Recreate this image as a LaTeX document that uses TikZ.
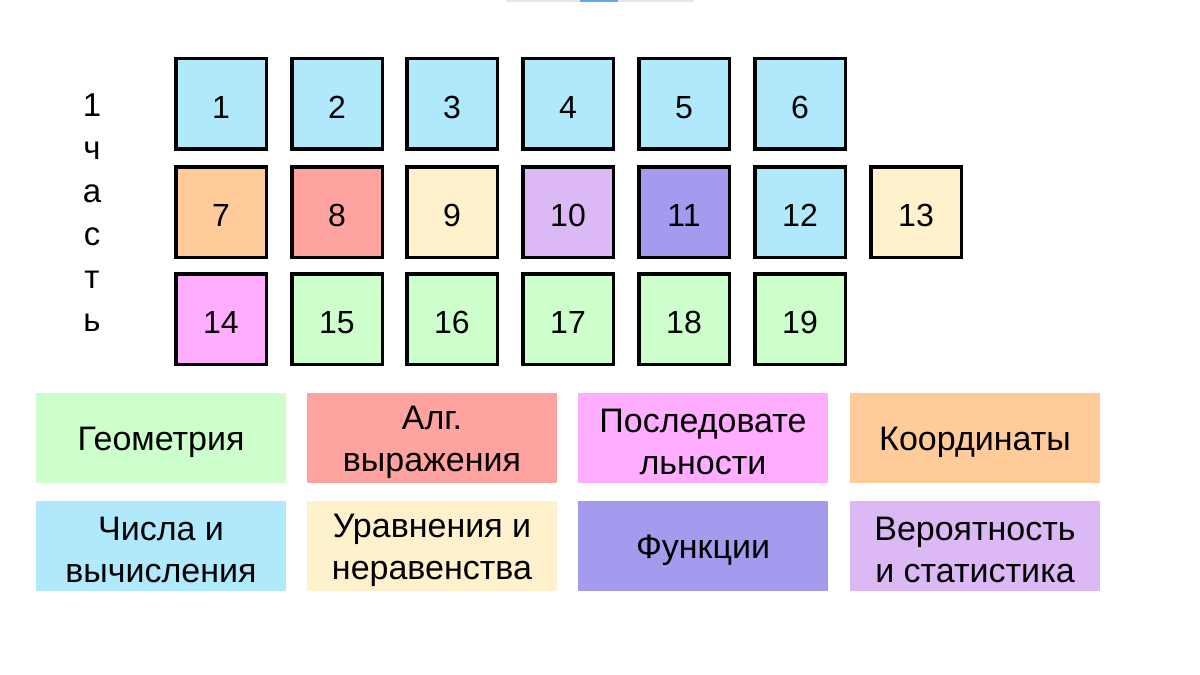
\documentclass[tikz,border=0pt]{standalone}
\usepackage{fontspec}
\setmainfont{Liberation Sans}
\definecolor{cblue}{HTML}{B0E8FC}
\definecolor{corange}{HTML}{FFCC99}
\definecolor{csalmon}{HTML}{FFA3A0}
\definecolor{cyellow}{HTML}{FFF1CC}
\definecolor{clilac}{HTML}{DCB8F5}
\definecolor{cperi}{HTML}{A49BEE}
\definecolor{cpink}{HTML}{FFADFF}
\definecolor{cgreen}{HTML}{CCFFCC}
\definecolor{cbarg}{HTML}{E6E6E6}
\definecolor{cbarb}{HTML}{62A8EA}
\newcommand\tst{\rule{0pt}{33pt}}
\newcommand\bst{\rule[-2pt]{0pt}{2pt}}
\begin{document}
\begin{tikzpicture}[x=1pt,y=-1pt,
  numbox/.style={draw=black, line width=3.5pt, minimum width=90.5pt, minimum height=90.5pt,
    inner sep=0pt, font=\fontsize{32}{38}\selectfont, text height=29pt, text depth=0pt},
  legbox/.style={minimum width=250pt, minimum height=90pt, inner sep=0pt, align=center,
    font=\fontsize{34}{42}\selectfont},
  vlet/.style={anchor=base, inner sep=0pt, font=\fontsize{33}{38}\selectfont}]
\useasboundingbox (0,0) rectangle (1200,675);
\fill[white] (0,0) rectangle (1200,675);
% top bar
\fill[cbarg] (506,0) rectangle (694,1.5);
\fill[cbarb] (580,0) rectangle (618,1.5);
% vertical label
\node[vlet] (v1) at (92,116) {1};
\node[vlet] (v2) at (92,159) {ч};
\node[vlet] (v3) at (92,202) {а};
\node[vlet] (v4) at (92,245) {с};
\node[vlet] (v5) at (92,288) {т};
\node[vlet] (v6) at (92,331) {ь};
% row 1
\node[numbox, fill=cblue] (n1) at (221,103.5) {1};
\node[numbox, fill=cblue] (n2) at (337,103.5) {2};
\node[numbox, fill=cblue] (n3) at (452,103.5) {3};
\node[numbox, fill=cblue] (n4) at (568,103.5) {4};
\node[numbox, fill=cblue] (n5) at (684,103.5) {5};
\node[numbox, fill=cblue] (n6) at (800,103.5) {6};
% row 2
\node[numbox, fill=corange] (n7) at (221,212) {7};
\node[numbox, fill=csalmon] (n8) at (337,212) {8};
\node[numbox, fill=cyellow] (n9) at (452,212) {9};
\node[numbox, fill=clilac] (n10) at (568,212) {10};
\node[numbox, fill=cperi] (n11) at (684,212) {11};
\node[numbox, fill=cblue] (n12) at (800,212) {12};
\node[numbox, fill=cyellow] (n13) at (916,212) {13};
% row 3
\node[numbox, fill=cpink] (n14) at (221,319) {14};
\node[numbox, fill=cgreen] (n15) at (337,319) {15};
\node[numbox, fill=cgreen] (n16) at (452,319) {16};
\node[numbox, fill=cgreen] (n17) at (568,319) {17};
\node[numbox, fill=cgreen] (n18) at (684,319) {18};
\node[numbox, fill=cgreen] (n19) at (800,319) {19};
% legend
\node[legbox, fill=cgreen] (l1) at (161,438) {\tst Геометрия\bst};
\node[legbox, fill=csalmon] (l2) at (432,438) {\tst Алг.\\выражения\bst};
\node[legbox, fill=cpink] (l3) at (703,438) {\tst Последовате\\льности\bst};
\node[legbox, fill=corange] (l4) at (975,438) {\tst Координаты\bst};
\node[legbox, fill=cblue] (l5) at (161,546) {\tst Числа и\\вычисления\bst};
\node[legbox, fill=cyellow] (l6) at (432,546) {\tst Уравнения и\\неравенства\bst};
\node[legbox, fill=cperi] (l7) at (703,546) {\tst Функции\bst};
\node[legbox, fill=clilac] (l8) at (975,546) {\tst Вероятность\\и статистика\bst};
\end{tikzpicture}
\end{document}
